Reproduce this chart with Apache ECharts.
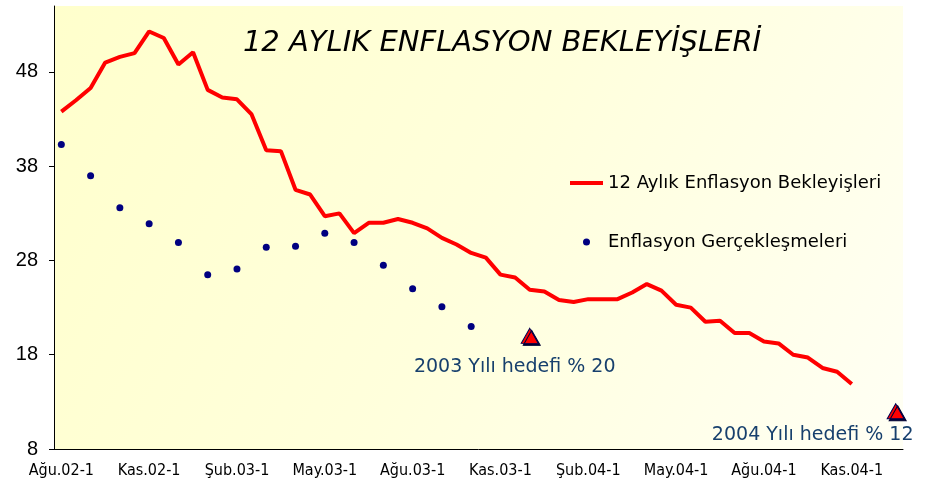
<!DOCTYPE html>
<html>
<head>
<meta charset="utf-8">
<script src="https://cdn.jsdelivr.net/npm/echarts@6/dist/echarts.min.js"></script>
<style>html,body{margin:0;padding:0;background:#fff}#c{width:936px;height:487px}</style>
</head>
<body>
<div id="c"></div>
<script>
const categories = [
  'Ağu.02-1','Ağu.02-2','Eyl.02-1','Eyl.02-2','Eki.02-1','Eki.02-2','Kas.02-1','Kas.02-2','Ara.02-1','Ara.02-2',
  'Oca.03-1','Oca.03-2','Şub.03-1','Şub.03-2','Mar.03-1','Mar.03-2','Nis.03-1','Nis.03-2','May.03-1','May.03-2',
  'Haz.03-1','Haz.03-2','Tem.03-1','Tem.03-2','Ağu.03-1','Ağu.03-2','Eyl.03-1','Eyl.03-2','Eki.03-1','Eki.03-2',
  'Kas.03-1','Kas.03-2','Ara.03-1','Ara.03-2','Oca.04-1','Oca.04-2','Şub.04-1','Şub.04-2','Mar.04-1','Mar.04-2',
  'Nis.04-1','Nis.04-2','May.04-1','May.04-2','Haz.04-1','Haz.04-2','Tem.04-1','Tem.04-2','Ağu.04-1','Ağu.04-2',
  'Eyl.04-1','Eyl.04-2','Eki.04-1','Eki.04-2','Kas.04-1','Kas.04-2','Ara.04-1','Ara.04-2'
];
const expectationName = '12 Aylık Enflasyon Bekleyişleri';
const expectations = [
  43.8, 45.0, 46.3, 49.0, 49.6, 50.0, 52.3, 51.6, 48.8, 50.1,
  46.1, 45.3, 45.1, 43.5, 39.7, 39.6, 35.5, 35.0, 32.7, 33.0,
  30.9, 32.0, 32.0, 32.4, 32.0, 31.4, 30.4, 29.7, 28.8, 28.3,
  26.5, 26.2, 24.9, 24.7, 23.8, 23.6, 23.9, 23.9, 23.9, 24.6,
  25.5, 24.8, 23.3, 23.0, 21.5, 21.6, 20.3, 20.3, 19.4, 19.2,
  18.0, 17.7, 16.6, 16.2, 14.9
];
const realizationName = 'Enflasyon Gerçekleşmeleri';
const realizationDates = [
  'Ağu.02-1','Eyl.02-1','Eki.02-1','Kas.02-1','Ara.02-1','Oca.03-1','Şub.03-1','Mar.03-1',
  'Nis.03-1','May.03-1','Haz.03-1','Tem.03-1','Ağu.03-1','Eyl.03-1','Eki.03-1'
];
const realizations = [40.3, 37.0, 33.6, 31.9, 29.9, 26.5, 27.1, 29.4, 29.5, 30.9, 29.9, 27.5, 25.0, 23.1, 21.0];
const targetDates = ['Ara.03-1', 'Ara.04-2'];
const targetValues = [20, 12];
const targetLabels = ['2003 Yılı hedefi % 20', '2004 Yılı hedefi % 12'];
const yTicks = [8, 18, 28, 38, 48];
const titleText = '12 AYLIK ENFLASYON BEKLEYİŞLERİ';

const tahomaC = "'DejaVu Sans Condensed', 'DejaVu Sans', sans-serif";
const verdana = "'DejaVu Sans', sans-serif";
const labelOffsets = [[-15, 31], [-83, 24]];

const chart = echarts.init(document.getElementById('c'), null, {renderer: 'canvas'});
chart.setOption({
  backgroundColor: '#ffffff',
  animation: false,
  title: {
    text: titleText,
    left: 497, top: 24, textAlign: 'center',
    textStyle: {fontFamily: verdana, fontStyle: 'italic', fontWeight: 'normal', fontSize: 29, color: '#000'}
  },
  legend: {
    data: [
      {name: expectationName, itemStyle: {opacity: 0}, lineStyle: {width: 4, color: '#FF0000'}},
      realizationName
    ],
    orient: 'vertical',
    left: 568, top: 173, padding: 0,
    itemWidth: 33, itemHeight: 7, itemGap: 39,
    textStyle: {fontFamily: verdana, fontSize: 18, color: '#000', lineHeight: 20}
  },
  grid: {
    left: 54, right: 33, top: 6, bottom: 38,
    show: true, borderWidth: 0,
    backgroundColor: new echarts.graphic.LinearGradient(0, 0, 1, 1, [
      {offset: 0, color: '#FFFFCC'},
      {offset: 0.5, color: '#FFFFDC'},
      {offset: 1, color: '#FFFFF4'}
    ])
  },
  xAxis: {
    type: 'category', data: categories, boundaryGap: true,
    axisLine: {lineStyle: {color: '#000', width: 1}},
    axisTick: {interval: 5, length: 5, lineStyle: {color: '#000'}},
    axisLabel: {interval: 5, margin: 14, fontFamily: tahomaC, fontSize: 16, color: '#000'},
    splitLine: {show: false}
  },
  yAxis: {
    type: 'value', min: 8, max: 55,
    axisLine: {show: true, lineStyle: {color: '#000', width: 1}},
    axisTick: {show: true, length: 5, customValues: yTicks, lineStyle: {color: '#000'}},
    axisLabel: {customValues: yTicks, margin: 16, fontFamily: "'Liberation Sans', Arial, sans-serif", fontSize: 20, color: '#000'},
    splitLine: {show: false}
  },
  series: [
    {
      name: expectationName, type: 'line', data: expectations,
      symbol: 'none', lineStyle: {color: '#FF0000', width: 4}, itemStyle: {color: '#FF0000'}, z: 3
    },
    {
      name: realizationName, type: 'scatter',
      data: realizationDates.map((d, i) => [d, realizations[i]]),
      symbol: 'circle', symbolSize: 7, itemStyle: {color: '#000080', opacity: 1}, z: 4
    },
    {
      name: 'Hedef', type: 'scatter',
      data: targetDates.map((d, i) => ({
        value: [d, targetValues[i]],
        label: {show: true, formatter: targetLabels[i], position: 'inside', offset: labelOffsets[i]}
      })),
      symbol: 'triangle', symbolSize: [17, 15],
      itemStyle: {color: '#FF0000', opacity: 1, borderColor: '#000050', borderWidth: 1,
        shadowColor: '#000033', shadowOffsetX: 2, shadowOffsetY: 2, shadowBlur: 0},
      label: {fontFamily: verdana, fontSize: 19, color: '#17406D'},
      z: 5
    }
  ]
});
</script>
</body>
</html>
